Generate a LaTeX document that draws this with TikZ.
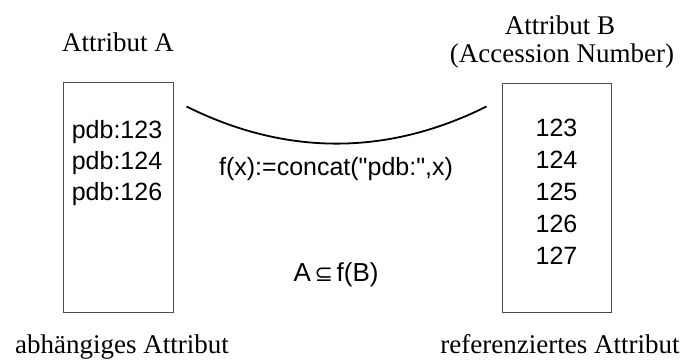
\documentclass[tikz,border=0pt]{standalone}
\usepackage{fontspec}
\usetikzlibrary{calc}
\setmainfont{Liberation Serif}
\newfontfamily\labelsans{Liberation Sans}
\newfontfamily\symfont{DejaVu Sans}
\begin{document}
\begin{tikzpicture}[x=1pt,y=-1pt,
  heading/.style={font=\fontsize{27}{30}\selectfont, anchor=base, inner sep=0pt},
  entry/.style={font=\labelsans\fontsize{25}{30}\selectfont, anchor=base, inner sep=0pt},
  attrbox/.style={draw=black!70, line width=1pt, inner sep=0pt},
  relcurve/.style={draw=black, line width=1.8pt}]
\useasboundingbox (0,0) rectangle (680,362);

% column headings
\node[heading] (headA) at (118,51) {Attribut A};
\node[heading] (headB) at (560,34) {Attribut B};
\node[heading] (headB2) at (562,62) {(Accession Number)};

% the two attribute columns
\node[attrbox, minimum width=110pt, minimum height=230pt] (boxA) at (118,197) {};
\node[attrbox, minimum width=109pt, minimum height=229pt] (boxB) at (556.5,197.5) {};

% values of attribute A
\node[entry] (a1) at (117,138) {pdb:123};
\node[entry] (a2) at (117,169) {pdb:124};
\node[entry] (a3) at (117,200) {pdb:126};

% values of attribute B
\node[entry] (b1) at (556.5,136) {123};
\node[entry] (b2) at (556.5,168) {124};
\node[entry] (b3) at (556.5,200) {125};
\node[entry] (b4) at (556.5,232) {126};
\node[entry] (b5) at (556.5,264) {127};

% mapping between the columns
\coordinate (cl) at ($(boxA.north east)+(13,25)$);
\coordinate (cr) at ($(boxB.north west)+(-15,24)$);
\draw[relcurve] (cl) .. controls (286,156) and (387,156) .. (cr);

\node[entry] (func) at (336,175) {f(x):=concat("pdb:",x)};
\node[entry, font=\labelsans\fontsize{26}{30}\selectfont] (incl) at (336,281)
  {A{\symfont\fontsize{22}{24}\selectfont\,⊆\,}f(B)};

% roles of the attributes
\node[heading] (roleA) at (122,353) {abhängiges Attribut};
\node[heading] (roleB) at (560,353) {referenziertes Attribut};
\end{tikzpicture}
\end{document}
